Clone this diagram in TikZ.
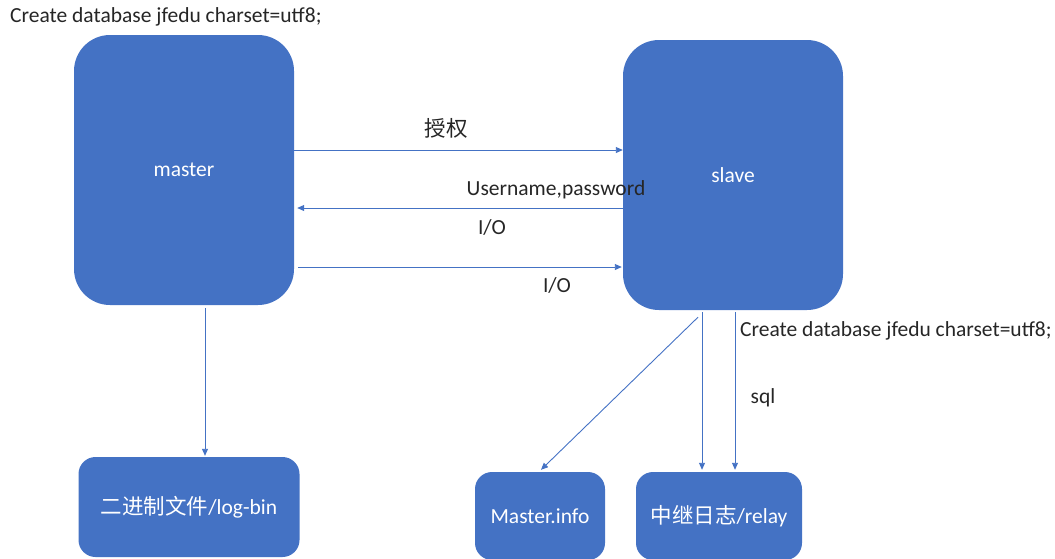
\documentclass[tikz,border=0pt]{standalone}
\usepackage{fontspec}
\setmainfont{Carlito}
\newfontfamily\cjk{Noto Sans CJK SC}
\usetikzlibrary{arrows.meta,calc}

\definecolor{boxblue}{HTML}{4472C4}
\definecolor{labelgray}{HTML}{262626}

\begin{document}
\begin{tikzpicture}[x=1pt,y=-1pt,font=\fontsize{21.5}{25}\selectfont,
    -{Triangle[length=7pt,width=6pt]}]

  \tikzstyle{hostnode}=[fill=boxblue,text=white,shape=rectangle,rounded corners=36pt,
                        minimum width=220pt,minimum height=270pt,inner sep=0pt]
  \tikzstyle{filenode}=[fill=boxblue,text=white,shape=rectangle,rounded corners=17pt,inner sep=0pt]
  \tikzstyle{flow}=[draw=boxblue,line width=0.9pt]
  \tikzstyle{lbl}=[text=labelgray,inner sep=0pt]

  \useasboundingbox (0,0) rectangle (1055,558);
  \clip (0,0) rectangle (1055,558);

  % the two servers
  \node[hostnode] (master) at (184,170) {master};
  \node[hostnode] (slave)  at (733,175) {slave};

  % files written on each side
  \node[filenode,minimum width=221pt,minimum height=100pt] (logbin)     at (189,507) {{\cjk 二进制文件}/log-bin};
  \node[filenode,minimum width=130pt,minimum height=88pt]  (masterinfo) at (540,516) {Master.info};
  \node[filenode,minimum width=166pt,minimum height=88pt]  (relay)      at (719,516) {{\cjk 中继日志}/relay};

  % links
  \path (master.east |- 0,150)            edge[flow] (slave.west |- 0,150)
        (slave.west |- 0,208)             edge[flow] ($(master.east |- 0,208)+(3,0)$)
        ($(master.east |- 0,267)+(4,0)$)  edge[flow] ($(slave.west |- 0,267)+(-1,0)$)
        ($(master.south)+(21,3)$)         edge[flow] ($(logbin.north)+(16,-1)$)
        ($(slave.south)+(-35,7)$)         edge[flow] ($(masterinfo.north)+(1,-2)$)
        ($(slave.south)+(-31,2)$)         edge[flow] ($(relay.north)+(-17,-2)$)
        ($(slave.south)+(2,2)$)           edge[flow] ($(relay.north)+(16,-2)$);

  % labels
  \node[lbl,anchor=west] (sqltop)  at (10,17)   {Create database jfedu charset=utf8;};
  \node[lbl]             (grant)   at (446,128) {\cjk 授权};
  \node[lbl]             (user)    at (556,190) {Username,password};
  \node[lbl]             (iofirst) at (492,227) {I/O};
  \node[lbl]             (iosec)   at (557,285) {I/O};
  \node[lbl,anchor=west] (sqlrep)  at (740,331) {Create database jfedu charset=utf8;};
  \node[lbl]             (sql)     at (763,398) {sql};
\end{tikzpicture}
\end{document}
